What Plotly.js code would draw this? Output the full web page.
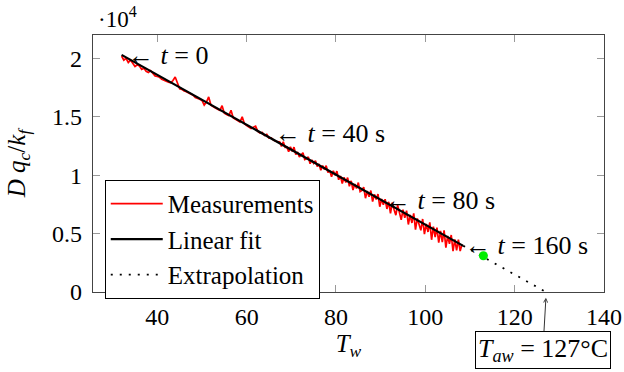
<!DOCTYPE html>
<html>
<head>
<meta charset="utf-8">
<script src="https://cdn.plot.ly/plotly-3.0.1.min.js"></script>
<style>html,body{margin:0;padding:0;background:#fff;}#chart{width:624px;height:372px;}</style>
</head>
<body>
<div id="chart"></div>
<script>
// Measurements (T_w, D q_c / k_f)
const measX = [32,32.5,33,33.5,34,34.5,35,35.5,36,36.5,37,37.5,38,38.5,39,39.5,40,40.5,41,41.5,42,42.5,43,43.5,44,44.5,45,45.5,46,46.5,47,47.5,48,48.5,49,49.5,50,50.5,51,51.5,52,52.5,53,53.5,54,54.5,55,55.5,56,56.5,57,57.5,58,58.5,59,59.5,60,60.5,61,61.5,62,62.5,63,63.5,64,64.5,65,65.5,66,66.5,67,
67.4,67.8,68.2,68.6,69.0,69.4,69.8,70.2,70.6,71.0,71.4,71.8,72.2,72.6,73.0,73.4,73.8,74.2,74.6,75.0,75.4,75.8,76.2,76.6,77.0,77.4,77.8,78.2,78.6,79.0,79.4,79.8,80.2,80.6,81.0,81.4,81.8,82.2,82.6,83.0,83.4,83.8,84.2,84.6,85.0,85.4,85.8,86.2,86.6,87.0,87.4,87.8,88.2,88.6,89.0,89.4,89.8,90.2,90.6,91.0,91.4,91.8,92.2,92.6,93.0,93.4,93.8,94.2,94.6,95.0,95.4,95.8,96.2,96.6,97.0,97.4,97.8,98.2,98.6,99.0,99.4,99.8,100.2,100.6,101.0,101.4,101.8,102.2,102.6,103.0,103.4,103.8,104.2,104.6,105.0,105.4,105.8,106.2,106.6,107.0,107.4,107.8,108.2];
const measY = [20200,19850,20000,19650,19850,19550,19300,19450,19350,19050,19150,18900,18800,18950,18750,18500,18450,18380,18200,18100,18000,17950,17900,18100,18400,17800,17400,17350,17200,17150,17050,16900,16850,16650,16600,16500,16400,16000,16250,16700,16000,15850,15750,15650,15550,15950,15300,15200,15100,15550,14900,14780,14700,14550,15000,14400,14250,14150,14000,14100,14200,13750,13600,13650,13400,13500,13180,13200,13000,12900,12850,
12840,12450,12860,12380,12390,12010,12420,12040,12400,11770,11980,11550,11760,11920,11340,11400,11570,10980,11300,11010,11230,10740,10960,10420,10830,10500,10810,10230,10390,9860,10370,9990,10350,9610,9930,9290,9810,9370,9790,9050,9520,8730,9250,8860,9370,8590,8700,8970,8030,8650,8160,8680,7740,8360,7920,8380,7300,7960,7480,7940,7110,7720,6740,7650,7070,6580,7440,6710,6170,7040,6350,6970,5780,6600,5910,6730,5340,6300,5670,5280,6250,4960,5830,5140,5960,4470,5590,4700,5510,4230,5240,4260,5270,3790,4800,4120,4880,3490,4510,3570,4490,3500,4070];

// Linear fit and extrapolation
const fitX = [32, 108.5];
const fitY = [20300, 3950];
const extX = [108.5, 127];
const extY = [3950, 0];

// Highlighted point
const ptX = [113];
const ptY = [3100];

// Ticks
const xTicks = [40, 60, 80, 100, 120, 140];
const yTickVals = [0, 5000, 10000, 15000, 20000];
const yTickText = ['0', '0.5', '1', '1.5', '2'];

// Time labels
const timeLabels = ['← <i>t</i> = 0', '← <i>t</i> = 40 s', '← <i>t</i> = 80 s', '← <i>t</i> = 160 s'];
const timeLabelX = [33.0, 65.8, 90.5, 108.5];
const timeLabelY = [20250, 13600, 7850, 4000];

const FONT = 'Liberation Serif';

const traces = [
  {x: measX, y: measY, type: 'scatter', mode: 'lines', name: 'Measurements',
   line: {color: '#ff0000', width: 1.7}},
  {x: fitX, y: fitY, type: 'scatter', mode: 'lines', name: 'Linear fit',
   line: {color: '#000000', width: 2.2}},
  {x: extX, y: extY, type: 'scatter', mode: 'lines', name: 'Extrapolation',
   line: {color: '#000000', width: 1.8, dash: '2px,7px'}},
  {x: ptX, y: ptY, type: 'scatter', mode: 'markers', showlegend: false,
   marker: {color: '#00ee00', size: 9}}
];

const annotations = timeLabels.map((t, i) => ({
  x: timeLabelX[i], y: timeLabelY[i], xref: 'x', yref: 'y', text: t,
  showarrow: false, xanchor: 'left', yanchor: 'middle',
  font: {family: FONT, size: 26, color: '#000'}
}));
annotations.push({
  x: 0.005, y: 1.07, xref: 'paper', yref: 'paper', text: '·10<sup>4</sup>',
  showarrow: false, xanchor: 'left', yanchor: 'middle',
  font: {family: FONT, size: 23, color: '#000'}
});
annotations.push({
  x: 127, y: -0.022, xref: 'x', yref: 'paper',
  text: '<i>T</i><sub><i>aw</i></sub> = 127°C',
  showarrow: true, ax: -3, ay: 52, axref: 'pixel', ayref: 'pixel',
  arrowhead: 5, arrowsize: 0.8, arrowwidth: 1, arrowcolor: '#333',
  bordercolor: '#000', borderwidth: 1, borderpad: 2, bgcolor: '#fff',
  font: {family: FONT, size: 26, color: '#000'}
});

const layout = {
  width: 624, height: 372,
  margin: {l: 93, r: 20, t: 35, b: 80},
  paper_bgcolor: '#fff', plot_bgcolor: '#fff',
  font: {family: FONT, size: 24, color: '#000'},
  showlegend: true,
  legend: {x: 0.023, y: 0.436, xanchor: 'left', yanchor: 'top',
    bordercolor: '#000', borderwidth: 1, bgcolor: '#fff', itemwidth: 52,
    font: {family: FONT, size: 25, color: '#000'}, tracegroupgap: 0},
  xaxis: {range: [25.6, 140], tickvals: xTicks, ticks: 'inside', ticklen: 7,
    tickcolor: '#999', showline: true, linecolor: '#444', linewidth: 1.2,
    mirror: 'allticks', showgrid: false, zeroline: false, ticklabelstandoff: 3,
    tickfont: {family: FONT, size: 24},
    title: {text: '<i>T</i><sub><i>w</i></sub>', standoff: 4, font: {family: FONT, size: 25}}},
  yaxis: {range: [0, 22000], tickvals: yTickVals, ticktext: yTickText, ticks: 'inside', ticklen: 7,
    tickcolor: '#999', showline: true, linecolor: '#444', linewidth: 1.2,
    mirror: 'allticks', showgrid: false, zeroline: false, ticklabelstandoff: 5,
    tickfont: {family: FONT, size: 24},
    title: {text: '<i>D q</i><sub><i>c</i></sub>/<i>k</i><sub><i>f</i></sub>', standoff: 19, font: {family: FONT, size: 25}}},
  annotations: annotations
};

Plotly.newPlot('chart', traces, layout, {displayModeBar: false, staticPlot: true});
</script>
</body>
</html>
